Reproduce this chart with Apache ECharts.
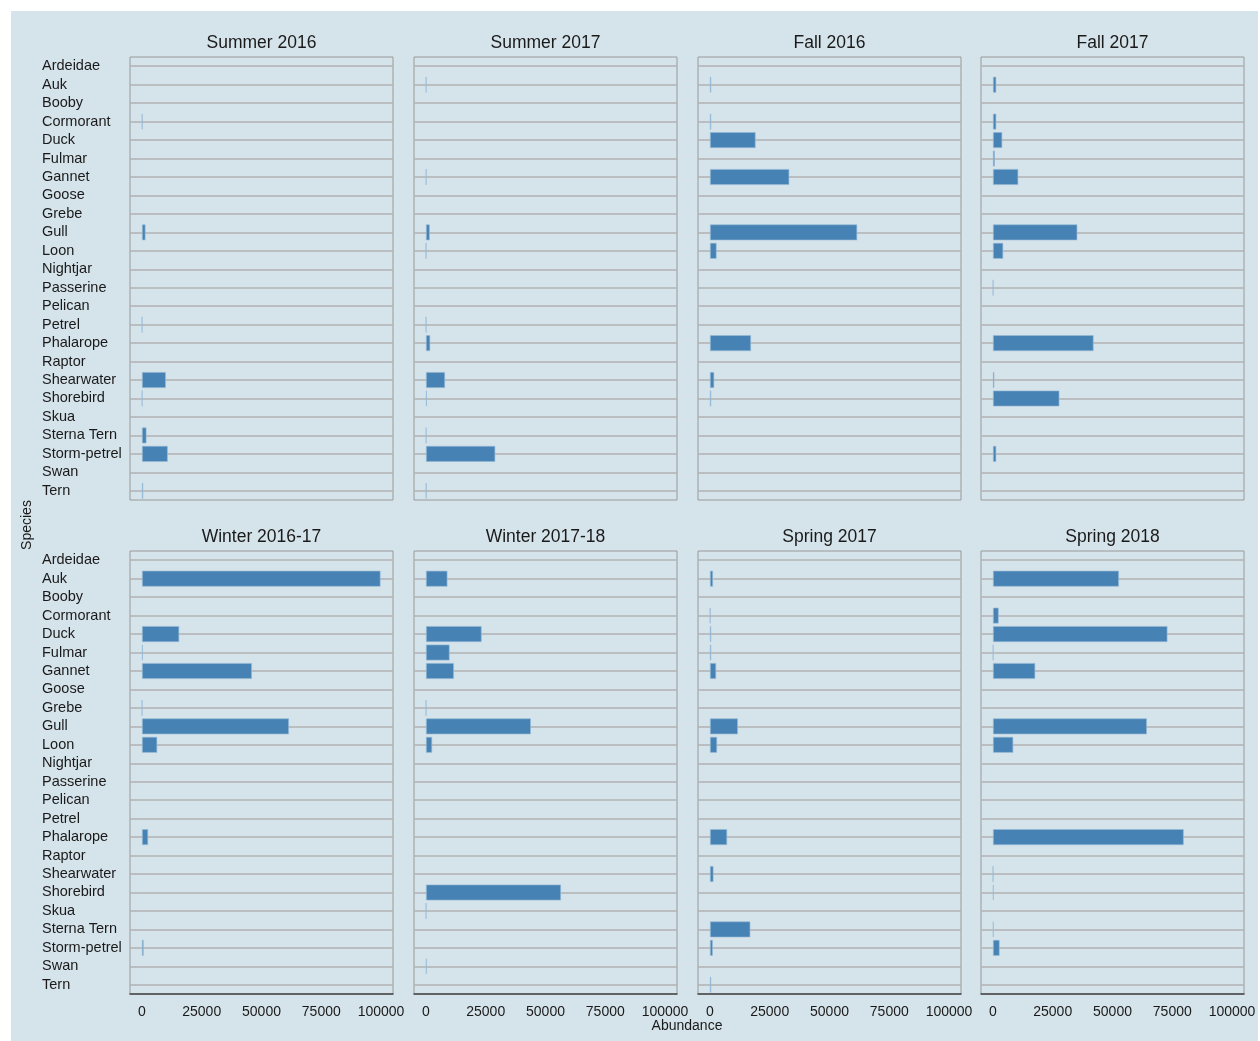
<!DOCTYPE html>
<html>
<head>
<meta charset="utf-8">
<script src="https://cdn.jsdelivr.net/npm/echarts@6/dist/echarts.min.js"></script>
<style>
	body{margin:0;background:#ffffff;}
	#bg{position:absolute;left:11px;top:11px;width:1247px;height:1030px;background:#d5e3ea;}
	#chart{position:absolute;left:0;top:0;width:1260px;height:1041px;}
</style>
</head>
<body>
<div id="bg"></div>
<div id="chart"></div>
<script>
var species = ['Ardeidae','Auk','Booby','Cormorant','Duck','Fulmar','Gannet','Goose','Grebe','Gull','Loon','Nightjar',
	'Passerine','Pelican','Petrel','Phalarope','Raptor','Shearwater','Shorebird','Skua','Sterna Tern','Storm-petrel','Swan','Tern'];

var seasons = ['Summer 2016','Summer 2017','Fall 2016','Fall 2017','Winter 2016-17','Winter 2017-18','Spring 2017','Spring 2018'];

var xTicks = [0, 25000, 50000, 75000, 100000];

// abundance per species, same order as species (null = none)
var summer2016 = [null,null,null,200,null,null,null,null,null,1500,null,null,null,null,100,null,null,10000,150,null,1900,10800,null,500];
var summer2017 = [null,150,null,null,null,null,150,null,null,1600,80,null,null,null,100,1800,null,8000,400,null,150,29000,null,200];
var fall2016   = [null,500,null,500,19100,null,33200,null,null,61600,2800,null,null,null,null,17200,null,1800,500,null,null,null,null,null];
var fall2017   = [null,1400,null,1400,3900,800,10600,null,null,35300,4300,null,100,null,null,42100,null,600,27800,null,null,1400,null,null];
var winter2016 = [null,99800,null,null,15600,400,46000,null,100,61500,6400,null,null,null,null,2600,null,null,null,null,null,700,null,null];
var winter2017 = [null,9000,null,null,23300,9900,11700,null,100,43900,2600,null,null,null,null,null,null,null,56500,100,null,null,300,null];
var spring2017 = [null,1300,null,200,500,500,2600,null,null,11700,3000,null,null,null,null,7200,null,1500,null,null,16900,1200,null,500];
var spring2018 = [null,52700,null,2400,73000,150,17700,null,null,64400,8500,null,null,null,null,79800,null,100,300,null,300,2800,null,null];

var seasonData = [summer2016,summer2017,fall2016,fall2017,winter2016,winter2017,spring2017,spring2018];

var FONT = 'Liberation Sans, Arial, sans-serif';
var colLeft = [130, 414, 698, 981];
var rowTop = [57, 551];
var panelW = 263;
var panelH = 443;

function renderChart(){
	var myChart = echarts.init(document.getElementById('chart'));
	var grids = [], xAxes = [], yAxes = [], series = [], texts = [];

	for(var i = 0; i < seasons.length; i++){
		var col = i % 4;
		var row = Math.floor(i / 4);
		var bottomRow = row == 1;

		grids.push({
			left: colLeft[col], top: rowTop[row], width: panelW, height: panelH,
			show: true, borderColor: '#9a9a9a', borderWidth: 1, backgroundColor: 'transparent'
		});

		xAxes.push({
			gridIndex: i,
			type: 'value',
			min: -5000,
			max: 105000,
			axisLine: {show: bottomRow, lineStyle: {color: '#444444', width: 1.5}},
			axisTick: {show: false},
			splitLine: {show: false},
			axisLabel: {
				show: bottomRow,
				customValues: xTicks,
				formatter: function(v){ return String(v); },
				margin: 11,
				color: '#1a1a1a',
				fontSize: 14,
				fontFamily: FONT
			}
		});

		yAxes.push({
			gridIndex: i,
			type: 'category',
			inverse: true,
			data: species,
			axisLine: {show: false},
			axisTick: {show: false},
			splitLine: {show: false},
			axisLabel: {
				show: col == 0,
				interval: 0,
				align: 'left',
				margin: 88,
				padding: [4, 0, 0, 0],
				color: '#1a1a1a',
				fontSize: 14.5,
				fontFamily: FONT
			}
		});

		// panel title
		texts.push({
			type: 'text',
			x: colLeft[col] + panelW / 2,
			y: rowTop[row] - 14,
			style: {
				text: seasons[i], fill: '#1a1a1a', font: '17.5px ' + FONT,
				textAlign: 'center', textVerticalAlign: 'middle'
			}
		});

		series.push({
			name: seasons[i],
			type: 'bar',
			xAxisIndex: i,
			yAxisIndex: i,
			data: seasonData[i],
			barWidth: 16,
			z: 3,
			itemStyle: {color: '#4682b4', borderColor: 'rgba(150,185,215,0.8)', borderWidth: 0.8},
			markLine: {
				silent: true,
				z: 1,
				symbol: ['none','none'],
				label: {show: false},
				lineStyle: {color: '#b2b2b2', width: 1.5, type: 'solid'},
				animation: false,
				data: species.map(function(s){ return {yAxis: s}; })
			}
		});
	}

	texts.push({
		type: 'text', x: 27, y: 525, rotation: Math.PI / 2,
		style: {text: 'Species', fill: '#1a1a1a', font: '14px ' + FONT, textAlign: 'center', textVerticalAlign: 'middle'}
	});
	texts.push({
		type: 'text', x: 687, y: 1026,
		style: {text: 'Abundance', fill: '#1a1a1a', font: '14px ' + FONT, textAlign: 'center', textVerticalAlign: 'middle'}
	});

	myChart.setOption({
		animation: false,
		backgroundColor: 'transparent',
		grid: grids,
		xAxis: xAxes,
		yAxis: yAxes,
		series: series,
		graphic: texts
	});
}

renderChart();
</script>
</body>
</html>
